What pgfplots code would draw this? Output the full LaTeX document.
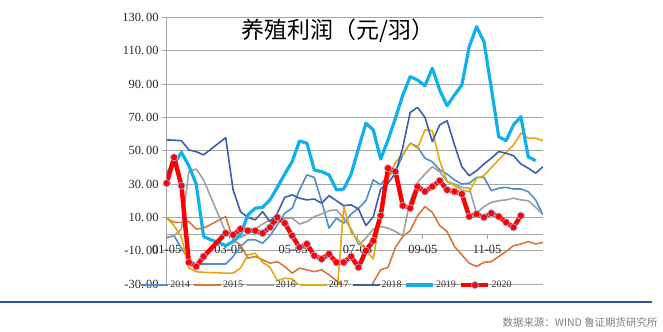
\documentclass[border=0pt]{standalone}
\usepackage{fontspec}
\setmainfont{Liberation Serif}
\newfontfamily\cjk{Noto Sans CJK SC}
\usepackage{pgfplots}
\pgfplotsset{compat=1.18}
\definecolor{c14}{HTML}{4E8FCB}
\definecolor{c15}{HTML}{D9773A}
\definecolor{c16}{HTML}{A0A0A0}
\definecolor{c17}{HTML}{E5A810}
\definecolor{c18}{HTML}{3C5EAE}
\definecolor{c19}{HTML}{10B0EC}
\definecolor{c20}{HTML}{FF0000}
\definecolor{mk}{HTML}{A9B4E0}
\definecolor{gridc}{HTML}{A6A6A6}
\definecolor{rule}{HTML}{2F5597}
\begin{document}
\begin{tikzpicture}
\useasboundingbox (0bp,0bp) rectangle (663bp,-332bp);
\begin{axis}[
  at={(166.7bp,-284bp)}, anchor=south west,
  width=376.3bp, height=266.6bp, scale only axis,
  xmin=0, xmax=51, ymin=-30, ymax=130,
  enlargelimits=false,
  axis x line=middle, axis y line=left,
  axis line style={-, draw=gridc, line width=1bp},
  hide obscured x ticks=false, hide obscured y ticks=false,
  ytick={-30,-10,10,30,50,70,90,110,130},
  yticklabels={-30.\thinspace 00,-10.\thinspace 00,10.\thinspace 00,30.\thinspace 00,50.\thinspace 00,70.\thinspace 00,90.\thinspace 00,110.\thinspace 00,130.\thinspace 00},
  xtick={0,8.43,17.14,25.86,34.71,43.43},
  xticklabels={01-05,03-05,05-05,07-05,09-05,11-05},
  tick align=outside, major tick length=4.5bp,
  tick style={draw=gridc, line width=0.8bp},
  ymajorgrids, major grid style={draw=gridc, line width=1bp},
  ticklabel style={font=\fontsize{12.5}{12.5}\selectfont, text=black!85},
  x tick label style={yshift=-3bp},
  clip mode=individual,
  legend columns=7,
  legend style={at={(axis description cs:-0.0691,-0.004)}, anchor=west,
    draw=none, fill=none, inner sep=0pt, outer sep=0pt,
    font=\fontsize{10}{10}\selectfont, text=black!80,
    nodes={inner sep=1bp},
    /tikz/every even column/.append style={column sep=2.3bp}},
  legend image code/.code={\draw[mark repeat=2,mark phase=2,#1] plot coordinates {(0bp,0bp) (13.5bp,0bp) (27bp,0bp)};},
  every axis plot/.append style={line join=round},
]
% 2014
\addplot[c14, line width=1.6bp, no marks] table {
0 -2
1 -1
2 -8.5
3 -15.5
4 -18
5 -18
8 -18
9 -13.5
10 -7.6
11 -3.5
12 -3.5
13 -5.5
14 -1
15 5.5
16 12.5
17 15.5
18 26.5
19 35.5
20 34
21 19.4
22 3.5
23 9.5
24 6.5
25 12
26 15.5
27 20
28 32.5
29 29.5
30 35.5
31 37.4
32 47.5
33 54.5
34 52.4
35 45.5
36 43.4
37 38.5
38 36
39 32.5
40 30
41 30.5
42 34
43 34
44 26
45 27.5
46 28
47 27
48 27
49 25.4
50 20.5
51 11.5
};
\addlegendentry{2014}
% 2015
\addplot[c15, line width=1.6bp, no marks] table {
0 9.5
1 7
2 7
3 7.5
4 3
5 3.5
8 10.4
9 -3.5
10 -6.5
11 -14.5
12 -13.5
13 -15.5
14 -17.5
15 -16.6
16 -19.5
17 -23.5
18 -20.5
19 -21.5
20 -22.6
21 -21.5
22 -24.5
23 -28
24 -31
25 -40
26 -40
27 -38
28 -29
29 -21.5
30 -20
31 -8
32 -1.5
33 2
34 11
35 16.5
36 13
37 5
38 1.5
39 -7.5
40 -12.5
41 -17.5
42 -19.5
43 -17
44 -16.6
45 -13.5
46 -10.5
47 -7
48 -6
49 -4.5
50 -6
51 -5
};
\addlegendentry{2015}
% 2016
\addplot[c16, line width=1.6bp, no marks] table {
0 -2.5
1 -1
2 3
3 37.5
4 39
5 32.5
6 22
7 11.5
8 1
9 -2
10 -2
11 0
12 3
13 6
14 8.5
15 6.5
16 9.5
17 9.5
18 6
19 7.4
20 10.4
21 12
22 14
23 14.5
24 9.5
25 3
26 -6.5
27 -2.5
28 3
29 4.5
30 3.5
31 1.5
32 -1
33 20
34 31
35 36
36 40.4
37 37.4
38 31.5
39 30
40 28
41 27.5
42 12.5
43 16.5
44 19
45 20
46 20.5
47 21.5
48 20.5
49 20
50 16
51 11.5
};
\addlegendentry{2016}
% 2017
\addplot[c17, line width=1.6bp, no marks] table {
0 9.5
1 5
2 -2
3 -20.5
4 -22.6
5 -23
8 -23.5
9 -23.5
10 -20.5
11 -12.5
12 -11.5
13 -17
14 -20
15 -28
16 -26.5
17 -27
18 -31
19 -40
20 -40
21 -40
22 -40
23 -40
24 16.5
25 1
26 -4
27 -10
28 -15
29 11.5
30 33.5
31 43
32 48
33 54.5
34 51.5
35 62.5
36 62
37 44
38 31.5
39 29
40 26.5
41 25.4
42 33.5
43 35
44 40
45 44.5
46 49
47 53.5
48 60.5
49 57.5
50 57.5
51 56
};
\addlegendentry{2017}
% 2018
\addplot[c18, line width=1.6bp, no marks] table {
0 56.5
1 56.3
2 56
3 50.5
4 49.4
5 47.5
8 57.8
9 26.5
10 13.4
11 10
12 8.5
13 13.4
14 7.4
15 12.5
16 22
17 23.5
18 21.5
19 20.5
20 21
21 18.5
22 23
23 20
24 17
25 17.5
26 15
27 5
28 10.4
29 27
30 30.5
31 36.5
32 52
33 73
34 76
35 70
36 55.4
37 65.5
38 68
39 53.5
40 40.4
41 35
42 38
43 42
44 45.5
45 49.5
46 48.5
47 47
48 42
49 39.5
50 36.5
51 40.4
};
\addlegendentry{2018}
% 2019
\addplot[c19, line width=3.2bp, no marks] table {
0 36.5
1 42
2 49
3 41
4 30
5 -1.5
6 -3.5
7 -5
8 -7
9 -4.5
10 -0.5
11 11.5
12 15.5
13 16
14 20.5
15 28
16 36
17 43.5
18 55.8
19 54.5
20 38.5
21 37.4
22 35.5
23 26.5
24 27
25 36
26 51.5
27 66.5
28 62.4
29 45
30 56.5
31 69.5
32 83.4
33 94.4
34 92.4
35 89
36 99.5
37 86.4
38 77
39 83.4
40 89.4
41 112.4
42 124.4
43 115.4
44 87.5
45 58.4
46 56
47 65.5
48 70.4
49 46.4
50 44
};
\addlegendentry{2019}
% 2020
\addplot[c20, line width=4.5bp, mark=*, mark size=3.6bp,
  mark options={fill=c20, draw=mk, line width=0.7bp}] table {
0 30.5
1 46
2 29
3 -17
4 -19.5
5 -13.5
8 0.5
9 -0.5
10 3
11 2
12 2
13 0.5
14 4
15 10
16 6.5
17 -1
18 -8
19 -6
20 -13
21 -15
22 -12
23 -17
24 -17
25 -13.5
26 -20
27 -10
28 -4
29 11
30 39.5
31 37.5
32 17
33 15.5
34 28.5
35 25.5
36 28.5
37 32
38 26.5
39 25.5
40 24
41 10.5
42 12
43 10
44 12.5
45 10.5
46 7
47 4
48 11
};
\addlegendentry{2020}
\end{axis}
\node[font=\cjk\fontsize{23}{23}\selectfont, text=black] at (338bp,-31bp) {养殖利润（元/羽）};
\draw[line width=2bp, rule] (0bp,-302bp) -- (652bp,-302bp);
\node[anchor=east, font=\cjk\fontsize{10.5}{10.5}\selectfont, text=black!50] at (661bp,-323bp) {数据来源：WIND 鲁证期货研究所};
\end{tikzpicture}
\end{document}
